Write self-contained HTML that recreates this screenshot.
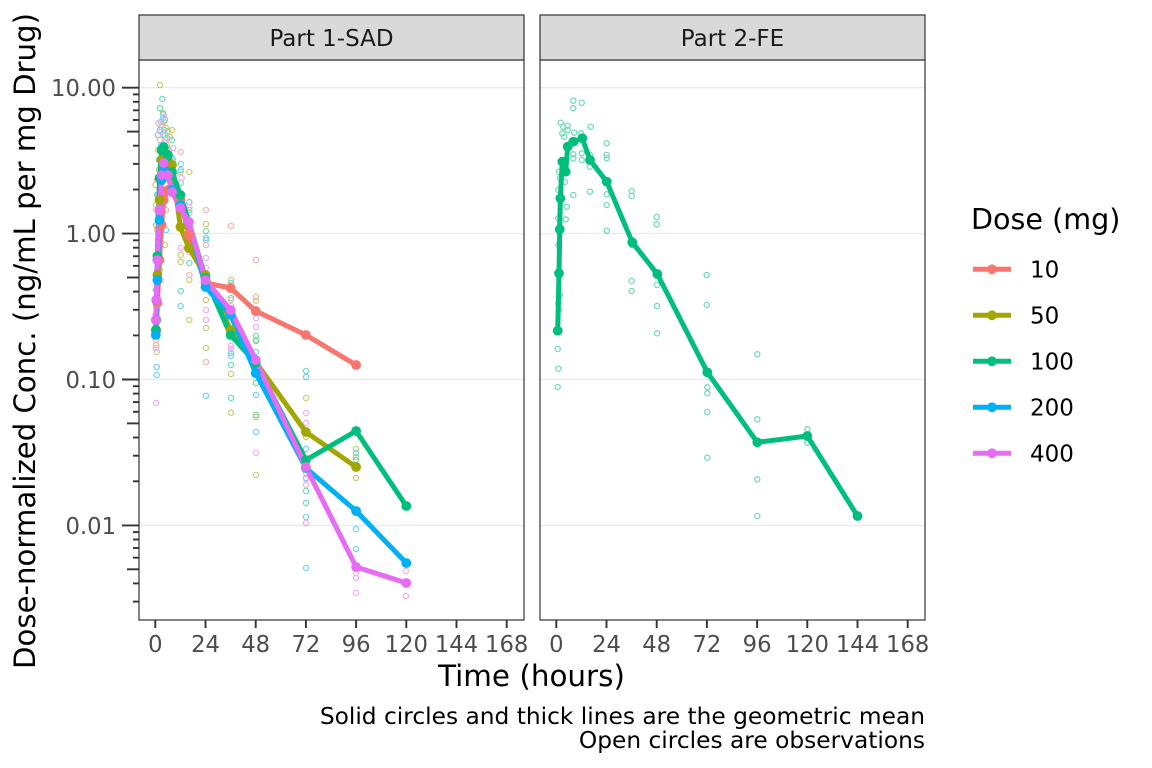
<!DOCTYPE html>
<html><head><meta charset="utf-8"><style>
html,body{margin:0;padding:0;background:#fff;}
svg{display:block;font-family:"DejaVu Sans","Liberation Sans",sans-serif;}
</style></head><body>
<svg width="1152" height="768" viewBox="0 0 1152 768" xmlns="http://www.w3.org/2000/svg">
<defs>
<clipPath id="c1"><rect x="139" y="60" width="385" height="560"/></clipPath>
<clipPath id="c2"><rect x="540" y="60" width="385" height="560"/></clipPath>
</defs>
<rect width="1152" height="768" fill="#fff"/>

<rect x="139" y="60" width="385" height="560" fill="#fff"/>
<g stroke="#EBEBEB" stroke-width="1.4">
<line x1="139" x2="524" y1="87.7" y2="87.7"/><line x1="139" x2="524" y1="233.6" y2="233.6"/>
<line x1="139" x2="524" y1="379.5" y2="379.5"/><line x1="139" x2="524" y1="525.4" y2="525.4"/>
<line x1="540" x2="925" y1="87.7" y2="87.7"/><line x1="540" x2="925" y1="233.6" y2="233.6"/>
<line x1="540" x2="925" y1="379.5" y2="379.5"/><line x1="540" x2="925" y1="525.4" y2="525.4"/>
</g>

<g clip-path="url(#c1)" fill="none" stroke-width="1.3" opacity="0.55">
<g stroke="#A3A500">
<circle cx="160" cy="85" r="2.6"/><circle cx="163" cy="113" r="2.6"/><circle cx="166" cy="128" r="2.6"/><circle cx="161" cy="127" r="2.6"/><circle cx="168" cy="131" r="2.6"/><circle cx="165" cy="140" r="2.6"/><circle cx="158" cy="150" r="2.6"/><circle cx="162" cy="160" r="2.6"/><circle cx="155.5" cy="185" r="2.6"/><circle cx="156" cy="205" r="2.6"/><circle cx="157" cy="230" r="2.6"/><circle cx="156.7" cy="352" r="2.6"/><circle cx="156.3" cy="345" r="2.6"/><circle cx="159" cy="170" r="2.6"/><circle cx="164" cy="122" r="2.6"/><circle cx="172" cy="130" r="2.6"/><circle cx="173" cy="148" r="2.6"/><circle cx="180.7" cy="255" r="2.6"/><circle cx="180.7" cy="262" r="2.6"/><circle cx="180.7" cy="172" r="2.6"/><circle cx="189.3" cy="172" r="2.6"/><circle cx="189.3" cy="213" r="2.6"/><circle cx="189.3" cy="280" r="2.6"/><circle cx="189.3" cy="320" r="2.6"/><circle cx="206" cy="224" r="2.6"/><circle cx="206" cy="300" r="2.6"/><circle cx="206" cy="328" r="2.6"/><circle cx="206" cy="348" r="2.6"/><circle cx="231" cy="280" r="2.6"/><circle cx="231" cy="374" r="2.6"/><circle cx="231" cy="412.7" r="2.6"/><circle cx="256" cy="300.7" r="2.6"/><circle cx="256" cy="340" r="2.6"/><circle cx="256" cy="417" r="2.6"/><circle cx="256" cy="475" r="2.6"/><circle cx="306" cy="398" r="2.6"/><circle cx="306" cy="437" r="2.6"/><circle cx="306" cy="473" r="2.6"/><circle cx="356" cy="457" r="2.6"/><circle cx="356" cy="478" r="2.6"/><circle cx="356" cy="449" r="2.6"/><circle cx="165" cy="245" r="2.6"/><circle cx="160" cy="270" r="2.6"/><circle cx="157" cy="290" r="2.6"/><circle cx="155.5" cy="320" r="2.6"/><circle cx="158" cy="215" r="2.6"/><circle cx="167" cy="145" r="2.6"/><circle cx="170" cy="137" r="2.6"/><circle cx="163" cy="135" r="2.6"/>
</g>
<g stroke="#00BF7D">
<circle cx="162.3" cy="99" r="2.6"/><circle cx="160" cy="108.3" r="2.6"/><circle cx="163.3" cy="114.3" r="2.6"/><circle cx="161" cy="122" r="2.6"/><circle cx="165" cy="120" r="2.6"/><circle cx="158" cy="135" r="2.6"/><circle cx="167" cy="138" r="2.6"/><circle cx="159" cy="160" r="2.6"/><circle cx="157" cy="195" r="2.6"/><circle cx="156" cy="225" r="2.6"/><circle cx="155.5" cy="260" r="2.6"/><circle cx="156" cy="290" r="2.6"/><circle cx="172" cy="140" r="2.6"/><circle cx="173" cy="160" r="2.6"/><circle cx="180.7" cy="183" r="2.6"/><circle cx="180.7" cy="291" r="2.6"/><circle cx="189.3" cy="202" r="2.6"/><circle cx="189.3" cy="263" r="2.6"/><circle cx="206" cy="231" r="2.6"/><circle cx="206" cy="240" r="2.6"/><circle cx="231" cy="298" r="2.6"/><circle cx="231" cy="365" r="2.6"/><circle cx="231" cy="398" r="2.6"/><circle cx="256" cy="336" r="2.6"/><circle cx="256" cy="341" r="2.6"/><circle cx="256" cy="383" r="2.6"/><circle cx="256" cy="415" r="2.6"/><circle cx="306" cy="371" r="2.6"/><circle cx="306" cy="491" r="2.6"/><circle cx="306" cy="503" r="2.6"/><circle cx="356" cy="460" r="2.6"/><circle cx="164" cy="130" r="2.6"/><circle cx="169" cy="150" r="2.6"/><circle cx="158" cy="245" r="2.6"/><circle cx="157" cy="310" r="2.6"/>
</g>
<g stroke="#F8766D">
<circle cx="165" cy="190" r="2.6"/><circle cx="162" cy="125" r="2.6"/><circle cx="160" cy="140" r="2.6"/><circle cx="157" cy="180" r="2.6"/><circle cx="156" cy="210" r="2.6"/><circle cx="158" cy="250" r="2.6"/><circle cx="155.5" cy="300" r="2.6"/><circle cx="156" cy="340" r="2.6"/><circle cx="180.7" cy="152" r="2.6"/><circle cx="189.3" cy="275" r="2.6"/><circle cx="206" cy="210" r="2.6"/><circle cx="206" cy="362" r="2.6"/><circle cx="231" cy="226" r="2.6"/><circle cx="256" cy="260" r="2.6"/><circle cx="256" cy="297" r="2.6"/><circle cx="170" cy="160" r="2.6"/><circle cx="175" cy="175" r="2.6"/><circle cx="166" cy="210" r="2.6"/><circle cx="161" cy="280" r="2.6"/><circle cx="189.3" cy="240" r="2.6"/><circle cx="206" cy="245" r="2.6"/><circle cx="231" cy="300" r="2.6"/>
</g>
<g stroke="#00B0F6">
<circle cx="163" cy="118" r="2.6"/><circle cx="160" cy="130" r="2.6"/><circle cx="167" cy="150" r="2.6"/><circle cx="172" cy="158" r="2.6"/><circle cx="180.7" cy="164" r="2.6"/><circle cx="180.7" cy="170" r="2.6"/><circle cx="180.7" cy="306" r="2.6"/><circle cx="189.3" cy="210" r="2.6"/><circle cx="206" cy="238" r="2.6"/><circle cx="206" cy="395.7" r="2.6"/><circle cx="231" cy="283" r="2.6"/><circle cx="231" cy="353" r="2.6"/><circle cx="231" cy="356" r="2.6"/><circle cx="256" cy="352" r="2.6"/><circle cx="256" cy="395" r="2.6"/><circle cx="256" cy="432" r="2.6"/><circle cx="306" cy="377" r="2.6"/><circle cx="306" cy="449" r="2.6"/><circle cx="306" cy="478" r="2.6"/><circle cx="306" cy="517" r="2.6"/><circle cx="306" cy="568" r="2.6"/><circle cx="356" cy="453" r="2.6"/><circle cx="356" cy="529" r="2.6"/><circle cx="356" cy="549" r="2.6"/><circle cx="156.7" cy="367" r="2.6"/><circle cx="156.7" cy="375" r="2.6"/><circle cx="155.5" cy="330" r="2.6"/><circle cx="157" cy="260" r="2.6"/><circle cx="158" cy="195" r="2.6"/><circle cx="161" cy="145" r="2.6"/><circle cx="165" cy="135" r="2.6"/><circle cx="169" cy="160" r="2.6"/><circle cx="155.8" cy="290" r="2.6"/><circle cx="166" cy="230" r="2.6"/>
</g>
<g stroke="#E76BF3">
<circle cx="158.3" cy="123" r="2.6"/><circle cx="164" cy="117" r="2.6"/><circle cx="161" cy="132" r="2.6"/><circle cx="166" cy="140" r="2.6"/><circle cx="173.3" cy="148" r="2.6"/><circle cx="181.7" cy="178" r="2.6"/><circle cx="180.7" cy="248" r="2.6"/><circle cx="189.3" cy="207" r="2.6"/><circle cx="189.3" cy="252" r="2.6"/><circle cx="206" cy="258" r="2.6"/><circle cx="206" cy="268" r="2.6"/><circle cx="206" cy="285" r="2.6"/><circle cx="206" cy="310" r="2.6"/><circle cx="206" cy="320" r="2.6"/><circle cx="231" cy="306" r="2.6"/><circle cx="231" cy="346" r="2.6"/><circle cx="231" cy="349" r="2.6"/><circle cx="256" cy="318" r="2.6"/><circle cx="256" cy="327" r="2.6"/><circle cx="256" cy="453" r="2.6"/><circle cx="306" cy="413" r="2.6"/><circle cx="306" cy="423" r="2.6"/><circle cx="306" cy="479" r="2.6"/><circle cx="306" cy="485" r="2.6"/><circle cx="306" cy="523" r="2.6"/><circle cx="356" cy="513" r="2.6"/><circle cx="356" cy="573" r="2.6"/><circle cx="356" cy="578" r="2.6"/><circle cx="356" cy="593" r="2.6"/><circle cx="406" cy="571" r="2.6"/><circle cx="406" cy="596" r="2.6"/><circle cx="156" cy="403" r="2.6"/><circle cx="156" cy="348" r="2.6"/><circle cx="155.5" cy="315" r="2.6"/><circle cx="157" cy="270" r="2.6"/><circle cx="159" cy="200" r="2.6"/><circle cx="162" cy="165" r="2.6"/><circle cx="170" cy="170" r="2.6"/><circle cx="175" cy="185" r="2.6"/><circle cx="158" cy="240" r="2.6"/>
</g>
</g>

<g clip-path="url(#c1)" fill="none" stroke-width="5" stroke-linejoin="round" stroke-linecap="butt">
<polyline stroke="#F8766D" points="156.3,330 157.4,303 159.5,260 161.6,225 163.7,200 167.9,190 172,192 180.4,200 188.8,235 205.5,283 230.6,288 255.7,311 305.9,335 356.1,365"/>
<polyline stroke="#A3A500" points="156.3,300 157.4,275 159.5,200 161.6,160 163.7,150 167.9,155 172,165 180.4,227 188.8,248 205.5,275 230.6,330 255.7,362 305.9,432 356.1,467"/>
<polyline stroke="#00BF7D" points="155.8,330 156.3,300 157.4,256 159.5,178 161.6,150 163.7,147 167.9,155 172,172 180.4,195 188.8,222 205.5,278 230.6,335 255.7,363 305.9,460 356.1,431 406.3,506"/>
<polyline stroke="#00B0F6" points="155.8,335 156.3,320 157.4,280 159.5,220 161.6,180 163.7,168 167.9,175 172,190 180.4,205 188.8,222 205.5,287 230.6,315 255.7,373 305.9,468 356.1,511 406.3,563"/>
<polyline stroke="#E76BF3" points="155.8,320 156.3,300 157.4,260 159.5,210 161.6,175 163.7,163 167.9,175 172,192 180.4,208 188.8,222 205.5,280 230.6,310 255.7,360 305.9,467 356.1,567 406.3,583"/>
</g>
<g clip-path="url(#c1)" stroke="none">
<g fill="#F8766D"><circle cx="156.3" cy="330" r="4.9"/><circle cx="157.4" cy="303" r="4.9"/><circle cx="159.5" cy="260" r="4.9"/><circle cx="161.6" cy="225" r="4.9"/><circle cx="163.7" cy="200" r="4.9"/><circle cx="167.9" cy="190" r="4.9"/><circle cx="172" cy="192" r="4.9"/><circle cx="180.4" cy="200" r="4.9"/><circle cx="188.8" cy="235" r="4.9"/><circle cx="205.5" cy="283" r="4.9"/><circle cx="230.6" cy="288" r="4.9"/><circle cx="255.7" cy="311" r="4.9"/><circle cx="305.9" cy="335" r="4.9"/><circle cx="356.1" cy="365" r="4.9"/></g>
<g fill="#A3A500"><circle cx="156.3" cy="300" r="4.9"/><circle cx="157.4" cy="275" r="4.9"/><circle cx="159.5" cy="200" r="4.9"/><circle cx="161.6" cy="160" r="4.9"/><circle cx="163.7" cy="150" r="4.9"/><circle cx="167.9" cy="155" r="4.9"/><circle cx="172" cy="165" r="4.9"/><circle cx="180.4" cy="227" r="4.9"/><circle cx="188.8" cy="248" r="4.9"/><circle cx="205.5" cy="275" r="4.9"/><circle cx="230.6" cy="330" r="4.9"/><circle cx="255.7" cy="362" r="4.9"/><circle cx="305.9" cy="432" r="4.9"/><circle cx="356.1" cy="467" r="4.9"/></g>
<g fill="#00BF7D"><circle cx="155.8" cy="330" r="4.9"/><circle cx="156.3" cy="300" r="4.9"/><circle cx="157.4" cy="256" r="4.9"/><circle cx="159.5" cy="178" r="4.9"/><circle cx="161.6" cy="150" r="4.9"/><circle cx="163.7" cy="147" r="4.9"/><circle cx="167.9" cy="155" r="4.9"/><circle cx="172" cy="172" r="4.9"/><circle cx="180.4" cy="195" r="4.9"/><circle cx="188.8" cy="222" r="4.9"/><circle cx="205.5" cy="278" r="4.9"/><circle cx="230.6" cy="335" r="4.9"/><circle cx="255.7" cy="363" r="4.9"/><circle cx="305.9" cy="460" r="4.9"/><circle cx="356.1" cy="431" r="4.9"/><circle cx="406.3" cy="506" r="4.9"/></g>
<g fill="#00B0F6"><circle cx="155.8" cy="335" r="4.9"/><circle cx="156.3" cy="320" r="4.9"/><circle cx="157.4" cy="280" r="4.9"/><circle cx="159.5" cy="220" r="4.9"/><circle cx="161.6" cy="180" r="4.9"/><circle cx="163.7" cy="168" r="4.9"/><circle cx="167.9" cy="175" r="4.9"/><circle cx="172" cy="190" r="4.9"/><circle cx="180.4" cy="205" r="4.9"/><circle cx="188.8" cy="222" r="4.9"/><circle cx="205.5" cy="287" r="4.9"/><circle cx="230.6" cy="315" r="4.9"/><circle cx="255.7" cy="373" r="4.9"/><circle cx="305.9" cy="468" r="4.9"/><circle cx="356.1" cy="511" r="4.9"/><circle cx="406.3" cy="563" r="4.9"/></g>
<g fill="#E76BF3"><circle cx="155.8" cy="320" r="4.9"/><circle cx="156.3" cy="300" r="4.9"/><circle cx="157.4" cy="260" r="4.9"/><circle cx="159.5" cy="210" r="4.9"/><circle cx="161.6" cy="175" r="4.9"/><circle cx="163.7" cy="163" r="4.9"/><circle cx="167.9" cy="175" r="4.9"/><circle cx="172" cy="192" r="4.9"/><circle cx="180.4" cy="208" r="4.9"/><circle cx="188.8" cy="222" r="4.9"/><circle cx="205.5" cy="280" r="4.9"/><circle cx="230.6" cy="310" r="4.9"/><circle cx="255.7" cy="360" r="4.9"/><circle cx="305.9" cy="467" r="4.9"/><circle cx="356.1" cy="567" r="4.9"/><circle cx="406.3" cy="583" r="4.9"/></g>
</g>

<g clip-path="url(#c2)" fill="none" stroke="#00BF7D" stroke-width="1.3" opacity="0.55">
<circle cx="573.3" cy="100.7" r="2.6"/><circle cx="573.3" cy="108.3" r="2.6"/><circle cx="581.7" cy="102.7" r="2.6"/>
<circle cx="560.7" cy="122.7" r="2.6"/><circle cx="563.3" cy="126.7" r="2.6"/><circle cx="567.7" cy="125.7" r="2.6"/><circle cx="567.7" cy="130" r="2.6"/><circle cx="562.3" cy="133.3" r="2.6"/><circle cx="564.3" cy="136.7" r="2.6"/><circle cx="574.3" cy="132.7" r="2.6"/><circle cx="581" cy="133.3" r="2.6"/><circle cx="590.7" cy="126.7" r="2.6"/><circle cx="606.7" cy="143.3" r="2.6"/>
<circle cx="573.3" cy="154.3" r="2.6"/><circle cx="573.3" cy="158.3" r="2.6"/><circle cx="581.7" cy="153.3" r="2.6"/><circle cx="581.7" cy="160" r="2.6"/><circle cx="590" cy="166.7" r="2.6"/><circle cx="590" cy="155" r="2.6"/><circle cx="606.7" cy="155" r="2.6"/><circle cx="606.7" cy="158.3" r="2.6"/>
<circle cx="559" cy="171.7" r="2.6"/><circle cx="560" cy="178.3" r="2.6"/><circle cx="565" cy="181.7" r="2.6"/><circle cx="558.3" cy="190" r="2.6"/><circle cx="573.3" cy="195" r="2.6"/><circle cx="590" cy="191.7" r="2.6"/><circle cx="606.7" cy="194.3" r="2.6"/><circle cx="606.7" cy="205" r="2.6"/><circle cx="631.7" cy="191" r="2.6"/><circle cx="631.7" cy="196" r="2.6"/><circle cx="656.7" cy="217" r="2.6"/><circle cx="656.7" cy="224.3" r="2.6"/>
<circle cx="566.7" cy="206.7" r="2.6"/><circle cx="558.3" cy="218.3" r="2.6"/><circle cx="565.7" cy="219.3" r="2.6"/><circle cx="560" cy="230" r="2.6"/><circle cx="606.7" cy="230.7" r="2.6"/><circle cx="558.3" cy="245" r="2.6"/><circle cx="631.7" cy="245" r="2.6"/>
<circle cx="560" cy="295" r="2.6"/><circle cx="558.3" cy="303.3" r="2.6"/><circle cx="559" cy="310" r="2.6"/><circle cx="631.7" cy="281" r="2.6"/><circle cx="631.7" cy="291" r="2.6"/><circle cx="657" cy="285" r="2.6"/><circle cx="657" cy="306" r="2.6"/><circle cx="657" cy="333.3" r="2.6"/>
<circle cx="557.7" cy="349" r="2.6"/><circle cx="558.3" cy="368.7" r="2.6"/><circle cx="557.7" cy="387" r="2.6"/>
<circle cx="706.7" cy="275" r="2.6"/><circle cx="706.7" cy="305" r="2.6"/><circle cx="707.3" cy="387.3" r="2.6"/><circle cx="707.3" cy="393.3" r="2.6"/><circle cx="707.3" cy="412" r="2.6"/><circle cx="707.3" cy="457.7" r="2.6"/>
<circle cx="757.3" cy="354.3" r="2.6"/><circle cx="757.3" cy="419.3" r="2.6"/><circle cx="757.3" cy="479.3" r="2.6"/><circle cx="757.3" cy="516" r="2.6"/>
<circle cx="807.3" cy="429.3" r="2.6"/><circle cx="807.3" cy="442.7" r="2.6"/>
</g>
<g clip-path="url(#c2)">
<polyline fill="none" stroke="#00BF7D" stroke-width="5" stroke-linejoin="round" points="557.7,330.7 559,273.3 559.7,229.3 560.3,198.3 562.3,161.7 565.7,171.7 567.7,146.7 573.3,141.7 582.3,138.3 590,160 606.7,181.7 632.3,242.3 657.3,274 707.3,372.3 757.3,442.3 807.3,436 857.5,516"/>
<g fill="#00BF7D"><circle cx="557.7" cy="330.7" r="4.9"/><circle cx="559" cy="273.3" r="4.9"/><circle cx="559.7" cy="229.3" r="4.9"/><circle cx="560.3" cy="198.3" r="4.9"/><circle cx="562.3" cy="161.7" r="4.9"/><circle cx="565.7" cy="171.7" r="4.9"/><circle cx="567.7" cy="146.7" r="4.9"/><circle cx="573.3" cy="141.7" r="4.9"/><circle cx="582.3" cy="138.3" r="4.9"/><circle cx="590" cy="160" r="4.9"/><circle cx="606.7" cy="181.7" r="4.9"/><circle cx="632.3" cy="242.3" r="4.9"/><circle cx="657.3" cy="274" r="4.9"/><circle cx="707.3" cy="372.3" r="4.9"/><circle cx="757.3" cy="442.3" r="4.9"/><circle cx="807.3" cy="436" r="4.9"/><circle cx="857.5" cy="516" r="4.9"/></g>
</g>

<g fill="none" stroke="#333" stroke-width="1.2">
<rect x="139" y="60" width="385" height="560"/>
<rect x="540" y="60" width="385" height="560"/>
</g>
<rect x="139" y="15" width="385" height="45" fill="#D9D9D9" stroke="#333" stroke-width="1.2"/>
<rect x="540" y="15" width="385" height="45" fill="#D9D9D9" stroke="#333" stroke-width="1.2"/>
<text x="331.5" y="46" font-size="23" fill="#1A1A1A" text-anchor="middle">Part 1-SAD</text>
<text x="732.5" y="46" font-size="23" fill="#1A1A1A" text-anchor="middle">Part 2-FE</text>

<g stroke="#333" stroke-width="1.9">
<line x1="122" x2="139" y1="87.7" y2="87.7"/><line x1="122" x2="139" y1="233.6" y2="233.6"/><line x1="122" x2="139" y1="379.5" y2="379.5"/><line x1="122" x2="139" y1="525.4" y2="525.4"/>
<line x1="127" x2="139" y1="131.6" y2="131.6"/><line x1="127" x2="139" y1="277.5" y2="277.5"/><line x1="127" x2="139" y1="423.4" y2="423.4"/><line x1="127" x2="139" y1="569.3" y2="569.3"/>
<line x1="133" x2="139" y1="94.4" y2="94.4"/><line x1="133" x2="139" y1="101.8" y2="101.8"/><line x1="133" x2="139" y1="110.3" y2="110.3"/><line x1="133" x2="139" y1="120.0" y2="120.0"/><line x1="133" x2="139" y1="145.7" y2="145.7"/><line x1="133" x2="139" y1="163.9" y2="163.9"/><line x1="133" x2="139" y1="189.5" y2="189.5"/>
<line x1="133" x2="139" y1="240.3" y2="240.3"/><line x1="133" x2="139" y1="247.7" y2="247.7"/><line x1="133" x2="139" y1="256.2" y2="256.2"/><line x1="133" x2="139" y1="265.9" y2="265.9"/><line x1="133" x2="139" y1="291.6" y2="291.6"/><line x1="133" x2="139" y1="309.8" y2="309.8"/><line x1="133" x2="139" y1="335.4" y2="335.4"/>
<line x1="133" x2="139" y1="386.2" y2="386.2"/><line x1="133" x2="139" y1="393.6" y2="393.6"/><line x1="133" x2="139" y1="402.1" y2="402.1"/><line x1="133" x2="139" y1="411.8" y2="411.8"/><line x1="133" x2="139" y1="437.5" y2="437.5"/><line x1="133" x2="139" y1="455.7" y2="455.7"/><line x1="133" x2="139" y1="481.3" y2="481.3"/>
<line x1="133" x2="139" y1="532.1" y2="532.1"/><line x1="133" x2="139" y1="539.5" y2="539.5"/><line x1="133" x2="139" y1="548.0" y2="548.0"/><line x1="133" x2="139" y1="557.7" y2="557.7"/><line x1="133" x2="139" y1="583.4" y2="583.4"/><line x1="133" x2="139" y1="601.6" y2="601.6"/>
</g>
<g font-size="22.7" fill="#4D4D4D" text-anchor="end">
<text x="116" y="96">10.00</text><text x="116" y="242">1.00</text><text x="116" y="388">0.10</text><text x="116" y="534">0.01</text>
</g>

<g stroke="#333" stroke-width="1.9">
<line x1="155.3" x2="155.3" y1="620" y2="628"/><line x1="205.5" x2="205.5" y1="620" y2="628"/><line x1="255.7" x2="255.7" y1="620" y2="628"/><line x1="305.9" x2="305.9" y1="620" y2="628"/><line x1="356.1" x2="356.1" y1="620" y2="628"/><line x1="406.3" x2="406.3" y1="620" y2="628"/><line x1="456.5" x2="456.5" y1="620" y2="628"/><line x1="506.7" x2="506.7" y1="620" y2="628"/>
<line x1="556.3" x2="556.3" y1="620" y2="628"/><line x1="606.5" x2="606.5" y1="620" y2="628"/><line x1="656.7" x2="656.7" y1="620" y2="628"/><line x1="706.9" x2="706.9" y1="620" y2="628"/><line x1="757.1" x2="757.1" y1="620" y2="628"/><line x1="807.3" x2="807.3" y1="620" y2="628"/><line x1="857.5" x2="857.5" y1="620" y2="628"/><line x1="907.7" x2="907.7" y1="620" y2="628"/>
</g>
<g font-size="22.7" fill="#4D4D4D" text-anchor="middle">
<text x="155.3" y="652">0</text><text x="205.5" y="652">24</text><text x="255.7" y="652">48</text><text x="305.9" y="652">72</text><text x="356.1" y="652">96</text><text x="406.3" y="652">120</text><text x="456.5" y="652">144</text><text x="506.7" y="652">168</text>
<text x="556.3" y="652">0</text><text x="606.5" y="652">24</text><text x="656.7" y="652">48</text><text x="706.9" y="652">72</text><text x="757.1" y="652">96</text><text x="807.3" y="652">120</text><text x="857.5" y="652">144</text><text x="907.7" y="652">168</text>
</g>

<text x="531.5" y="686" font-size="29.4" fill="#000" text-anchor="middle">Time (hours)</text>
<text transform="translate(35,341) rotate(-90)" font-size="29.2" fill="#000" text-anchor="middle">Dose-normalized Conc. (ng/mL per mg Drug)</text>

<text x="925" y="724" font-size="23.3" fill="#000" text-anchor="end">Solid circles and thick lines are the geometric mean</text>
<text x="925" y="748" font-size="23.3" fill="#000" text-anchor="end">Open circles are observations</text>

<text x="971" y="229" font-size="28.6" fill="#000">Dose (mg)</text>
<g stroke-width="5">
<line x1="973" x2="1011" y1="269.3" y2="269.3" stroke="#F8766D"/><circle cx="992" cy="269.3" r="4.9" fill="#F8766D" stroke="none"/>
<line x1="973" x2="1011" y1="315.3" y2="315.3" stroke="#A3A500"/><circle cx="992" cy="315.3" r="4.9" fill="#A3A500" stroke="none"/>
<line x1="973" x2="1011" y1="361.3" y2="361.3" stroke="#00BF7D"/><circle cx="992" cy="361.3" r="4.9" fill="#00BF7D" stroke="none"/>
<line x1="973" x2="1011" y1="407.3" y2="407.3" stroke="#00B0F6"/><circle cx="992" cy="407.3" r="4.9" fill="#00B0F6" stroke="none"/>
<line x1="973" x2="1011" y1="453.3" y2="453.3" stroke="#E76BF3"/><circle cx="992" cy="453.3" r="4.9" fill="#E76BF3" stroke="none"/>
</g>
<g font-size="23" fill="#000">
<text x="1030" y="277.5">10</text><text x="1030" y="323.5">50</text><text x="1030" y="369.5">100</text><text x="1030" y="415.5">200</text><text x="1030" y="461.5">400</text>
</g>
</svg>
</body></html>
